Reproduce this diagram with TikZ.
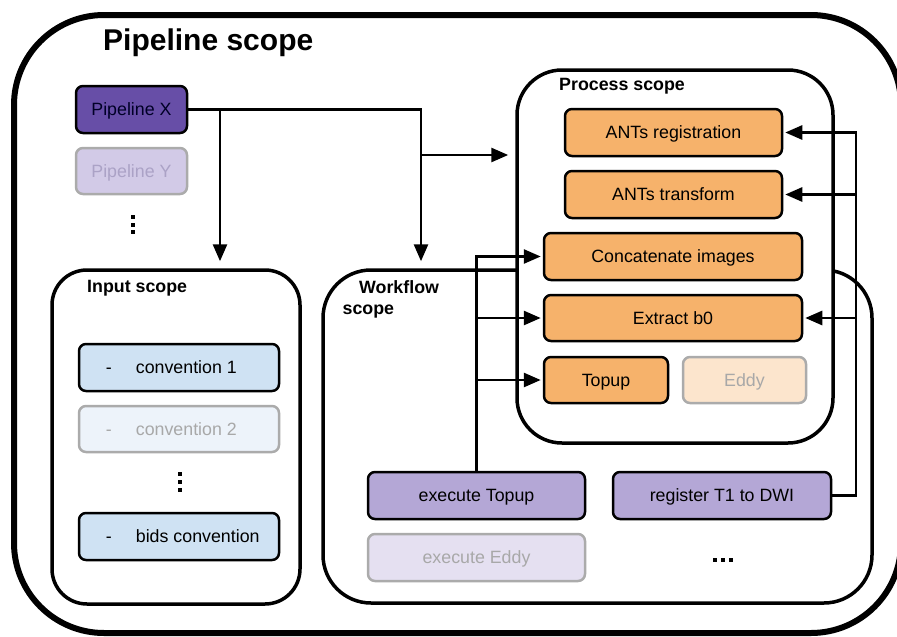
\documentclass[tikz,border=0pt]{standalone}
\usepackage{fontspec}
\setmainfont{Liberation Sans}
\usetikzlibrary{arrows.meta}

\definecolor{pipeDark}{HTML}{674EA7}
\definecolor{pipeFaded}{HTML}{D2CAE7}
\definecolor{pipeFadedText}{HTML}{ABA2C6}
\definecolor{procOrange}{HTML}{F6B26B}
\definecolor{procFaded}{HTML}{FCE5CD}
\definecolor{convBlue}{HTML}{CFE2F3}
\definecolor{convFaded}{HTML}{EDF3FA}
\definecolor{execPurple}{HTML}{B4A7D6}
\definecolor{execFaded}{HTML}{E5E0F1}
\definecolor{fadedLine}{HTML}{ABABAB}
\definecolor{fadedText}{HTML}{A8A8A8}

\begin{document}
\begin{tikzpicture}[x=1pt,y=-1pt,
  every node/.style={font=\fontsize{17.8}{21}\selectfont},
  box/.style={draw=black, line width=2.5pt, rounded corners=7pt, inner sep=0pt,
    minimum height=47pt, text height=12.6pt, text depth=0pt},
  fadedbox/.style={box, draw=fadedLine, text=fadedText},
  scopebox/.style={draw=black, line width=3.5pt, inner sep=0pt},
  scopetitle/.style={font=\fontsize{17.8}{21}\selectfont\bfseries, anchor=base west, inner sep=0pt},
  flow/.style={line width=2.7pt, -{Triangle[length=17pt,width=14pt]}}
]
\useasboundingbox (0,0) rectangle (897,637);
\clip (0,0) rectangle (897,637);

% outer pipeline scope
\draw[line width=6pt, rounded corners=90pt] (14,15) rectangle (901,633);
\node[scopetitle, font=\fontsize{30}{36}\selectfont\bfseries] (pipetitle) at (103,50) {Pipeline scope};

% pipelines
\node[box, fill=pipeDark, text=black!85!blue, minimum width=111pt] (px) at (131.5,109.5) {Pipeline X};
\node[fadedbox, fill=pipeFaded, text=pipeFadedText, minimum width=111pt, minimum height=46pt] (py) at (131.5,171) {Pipeline Y};
\foreach \yy in {217,224.5,232} \fill (131,\yy-2) rectangle (135,\yy+2);

% input scope
\node[scopebox, rounded corners=35pt, minimum width=248pt, minimum height=334pt] (inp) at (176,437) {};
\node[scopetitle] (inptitle) at (87,292.7) {Input scope};
\node[box, fill=convBlue, minimum width=200pt] (c1) at (179,367.5) {};
\node[anchor=west, inner sep=0pt, text height=12.6pt, text depth=0pt] (c1t) at ([xshift=28pt]c1.west) {-\hspace{24pt}convention 1};
\node[fadedbox, fill=convFaded, minimum width=200pt, minimum height=46pt] (c2) at (179,429) {};
\node[anchor=west, inner sep=0pt, text=fadedText, text height=12.6pt, text depth=0pt] (c2t) at ([xshift=28pt]c2.west) {-\hspace{24pt}convention 2};
\foreach \yy in {474,482,490} \fill (177.8,\yy-2.2) rectangle (182.2,\yy+2.2);
\node[box, fill=convBlue, minimum width=200pt] (bids) at (179,536.5) {};
\node[anchor=west, inner sep=0pt, text height=12.6pt, text depth=0pt] (bidst) at ([xshift=28pt]bids.west) {-\hspace{24pt}bids convention};

% workflow scope
\node[scopebox, rounded corners=48pt, minimum width=549pt, minimum height=333pt] (wf) at (597.5,436.5) {};
\node[scopetitle] (wftitle1) at (359,293.3) {Workflow};
\node[scopetitle] (wftitle2) at (342.5,314.3) {scope};

% process scope
\node[scopebox, fill=white, rounded corners=45pt, minimum width=316pt, minimum height=373pt] (proc) at (675,256.5) {};
\node[scopetitle] (proctitle) at (559,90.7) {Process scope};

% processes
\node[box, fill=procOrange, minimum width=217pt] (antsreg) at (673.5,132.5) {ANTs registration};
\node[box, fill=procOrange, minimum width=217pt] (antstr) at (673.5,194.5) {ANTs transform};
\node[box, fill=procOrange, minimum width=258pt] (concat) at (673,256.5) {Concatenate images};
\node[box, fill=procOrange, minimum width=258pt, minimum height=46pt] (extract) at (673,318) {Extract b0};
\node[box, fill=procOrange, minimum width=124pt, minimum height=46pt] (topup) at (606,380) {Topup};
\node[fadedbox, fill=procFaded, minimum width=123pt, minimum height=46pt] (eddy) at (744.5,380) {Eddy};

% workflows
\node[box, fill=execPurple, minimum width=217pt] (etop) at (476.5,495.5) {execute Topup};
\node[fadedbox, fill=execFaded, minimum width=217pt] (eeddy) at (476.5,557.5) {execute Eddy};
\node[box, fill=execPurple, minimum width=218pt] (reg) at (722,495.5) {register T1 to DWI};
\foreach \xx in {715,723,731} \fill (\xx-2.2,558) rectangle (\xx+2.2,562.4);

% pipeline X feeds the scopes
\coordinate (splitA) at (220,109.5);
\coordinate (splitB) at (421,109.5);
\coordinate (splitC) at (421,155);
\draw[flow, shorten >=7pt] (px.east) -| (splitB |- wf.north);
\draw[flow, shorten >=7pt] (splitA) -- (splitA |- inp.north);
\draw[flow, shorten >=7pt] (splitC) -- (splitC -| proc.west);

% execute Topup calls its processes
\draw[flow, shorten >=2pt] (etop.north) |- (concat.west);
\draw[flow, shorten >=2pt] (etop.north |- extract.west) -- (extract.west);
\draw[flow, shorten >=2pt] (etop.north |- topup.west) -- (topup.west);

% register T1 to DWI calls its processes
\coordinate (rbus) at (856,132.5);
\draw[flow, shorten >=2pt] (reg.east) -| (rbus) -- (antsreg.east);
\draw[flow, shorten >=2pt] (rbus |- antstr.east) -- (antstr.east);
\draw[flow, shorten >=2pt] (rbus |- extract.east) -- (extract.east);
\end{tikzpicture}
\end{document}
